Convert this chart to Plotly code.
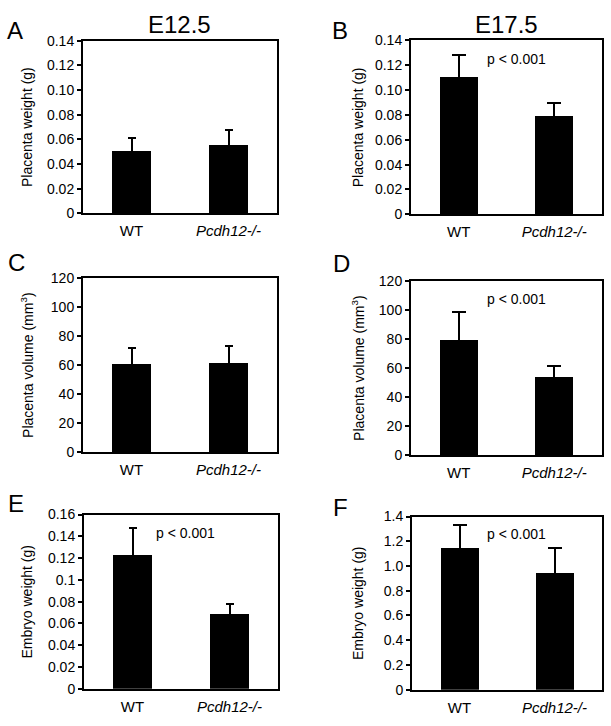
import plotly.graph_objects as go

groups = ["WT", "Pcdh12-/-"]
group_labels = ["WT", "<i>Pcdh12-/-</i>"]

panel_letters = ["A", "B", "C", "D", "E", "F"]
stage_titles = ["E12.5", "E17.5"]

# panel values (mean) and upper error (SD)
a_mean = [0.051, 0.0555]
a_err = [0.0103, 0.0125]
b_mean = [0.110, 0.0787]
b_err = [0.018, 0.0105]
c_mean = [61.0, 61.5]
c_err = [11.0, 11.5]
d_mean = [79.5, 53.8]
d_err = [19.3, 7.4]
e_mean = [0.123, 0.069]
e_err = [0.0245, 0.0085]
f_mean = [1.15, 0.945]
f_err = [0.18, 0.20]

y_titles = ["Placenta weight (g)", "Placenta weight (g)",
            "Placenta volume (mm<sup>3</sup>)", "Placenta volume (mm<sup>3</sup>)",
            "Embryo weight (g)", "Embryo weight (g)"]

tick_a = [0, 0.02, 0.04, 0.06, 0.08, 0.10, 0.12, 0.14]
tick_a_txt = ["0", "0.02", "0.04", "0.06", "0.08", "0.10", "0.12", "0.14"]
tick_c = [0, 20, 40, 60, 80, 100, 120]
tick_c_txt = ["0", "20", "40", "60", "80", "100", "120"]
tick_e = [0, 0.02, 0.04, 0.06, 0.08, 0.1, 0.12, 0.14, 0.16]
tick_e_txt = ["0", "0.02", "0.04", "0.06", "0.08", "0.1", "0.12", "0.14", "0.16"]
tick_f = [0, 0.2, 0.4, 0.6, 0.8, 1.0, 1.2, 1.4]
tick_f_txt = ["0", "0.2", "0.4", "0.6", "0.8", "1.0", "1.2", "1.4"]

p_text = "p < 0.001"
p_panels = [False, True, False, True, True, True]

W, H = 611, 726
FONT = "Liberation Sans, Arial, Helvetica, sans-serif"

means = [a_mean, b_mean, c_mean, d_mean, e_mean, f_mean]
errs = [a_err, b_err, c_err, d_err, e_err, f_err]
ticks = [(tick_a, tick_a_txt), (tick_a, tick_a_txt), (tick_c, tick_c_txt),
         (tick_c, tick_c_txt), (tick_e, tick_e_txt), (tick_f, tick_f_txt)]
ymax = [0.14, 0.14, 120, 120, 0.16, 1.4]

# pixel boxes (left, right, top, bottom)
boxes = [(83, 277, 33.5, 210), (411, 602, 33, 211),
         (83, 277, 276, 454), (411, 602, 279, 457),
         (84, 278, 518, 696), (412, 602, 520, 697)]
letter_pos = [(15, 23), (340, 23), (16, 260), (341, 261), (16, 507), (340, 511)]
ytitle_x = [27, 358, 27, 358, 27, 358]
p_pos = [None, (516, 52), None, (516, 298), (185, 537), (516, 538)]
cap_w = [4, 7, 4, 7, 4, 7]

fig = go.Figure()
annotations = []
layout = {}

for i in range(6):
    n = "" if i == 0 else str(i + 1)
    l, r, t, b = boxes[i]
    # lower part of the error bar hidden inside the bar
    inner = [ymax[i] * 0.03] * 2
    fig.add_trace(go.Bar(
        x=[0, 1], y=means[i],
        width=0.4,
        marker=dict(color="black", line=dict(width=0)),
        error_y=dict(type="data", symmetric=False, array=errs[i],
                     arrayminus=inner, color="black", thickness=2,
                     width=cap_w[i]),
        xaxis="x" + n, yaxis="y" + n, showlegend=False,
    ))
    layout["xaxis" + n] = dict(
        domain=[l / W, r / W], anchor="y" + n, range=[-0.5, 1.5],
        tickvals=[0, 1], ticktext=group_labels, ticks="",
        showline=True, linecolor="black", linewidth=2, mirror=True,
        showgrid=False, zeroline=False, ticklabelstandoff=3,
        tickfont=dict(family=FONT, size=15, color="black"), fixedrange=True,
    )
    layout["yaxis" + n] = dict(
        domain=[1 - b / H, 1 - t / H], anchor="x" + n, range=[0, ymax[i]],
        tickvals=ticks[i][0], ticktext=ticks[i][1], ticks="outside",
        ticklen=4, tickwidth=1.5, tickcolor="black",
        showline=True, linecolor="black", linewidth=2, mirror=True,
        showgrid=False, zeroline=False,
        tickfont=dict(family=FONT, size=14, color="black"), fixedrange=True,
    )
    # y axis title
    annotations.append(dict(
        text=y_titles[i], x=ytitle_x[i] / W, y=1 - ((t + b) / 2) / H,
        xref="paper", yref="paper", showarrow=False, textangle=-90,
        xanchor="center", yanchor="middle",
        font=dict(family=FONT, size=14, color="black")))
    # panel letter
    lx, ly = letter_pos[i]
    annotations.append(dict(
        text=panel_letters[i], x=lx / W, y=1 - ly / H, xref="paper", yref="paper",
        showarrow=False, xanchor="center", yanchor="middle",
        font=dict(family=FONT, size=24, color="black")))
    if p_panels[i]:
        px, py = p_pos[i]
        annotations.append(dict(
            text=p_text, x=px / W, y=1 - py / H, xref="paper", yref="paper",
            showarrow=False, xanchor="center", yanchor="middle",
            font=dict(family=FONT, size=14, color="black")))

for j, (cx, cy) in enumerate([(179, 17), (506, 17)]):
    annotations.append(dict(
        text=stage_titles[j], x=cx / W, y=1 - cy / H, xref="paper", yref="paper",
        showarrow=False, xanchor="center", yanchor="middle",
        font=dict(family=FONT, size=24, color="black")))

fig.update_layout(
    width=W, height=H, margin=dict(l=0, r=0, t=0, b=0),
    paper_bgcolor="white", plot_bgcolor="white",
    annotations=annotations, bargap=0, **layout,
)

fig.write_html(
    "out.html",
    config={"displayModeBar": False},
    post_script="document.body.style.margin='0';document.body.style.padding='0';document.body.style.overflow='hidden';",
)
